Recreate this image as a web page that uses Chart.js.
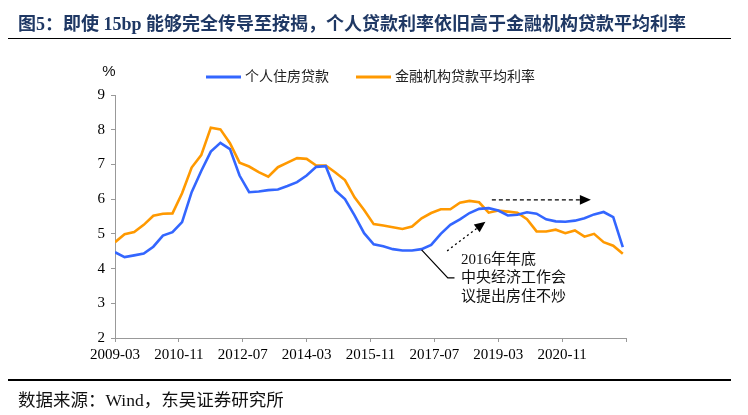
<!DOCTYPE html>
<html>
<head>
<meta charset="utf-8">
<script src="https://cdn.jsdelivr.net/npm/chart.js@4.4.1/dist/chart.umd.min.js"></script>
<style>
  html, body { margin: 0; padding: 0; background: #fff; }
  #wrap { position: relative; width: 748px; height: 415px; overflow: hidden; }
  #title { position: absolute; left: 18px; top: 9px; font: bold 18px "Liberation Serif", "Noto Sans CJK SC", serif; color: #1f3864; white-space: nowrap; }
  #rule1 { position: absolute; left: 8px; top: 38px; width: 723px; border-top: 1.5px solid #000; }
  #rule2 { position: absolute; left: 8px; top: 379px; width: 723px; border-top: 2.5px solid #000; }
  #src { position: absolute; left: 18px; top: 386px; font: 17.5px "Liberation Serif", "Noto Sans CJK SC", serif; color: #111; white-space: nowrap; }
  canvas { position: absolute; left: 0; top: 0; }
</style>
</head>
<body>
<div id="wrap">
  <canvas id="c" width="748" height="415"></canvas>
  <div id="title">图5：即使 15bp 能够完全传导至按揭，个人贷款利率依旧高于金融机构贷款平均利率</div>
  <div id="rule1"></div>
  <div id="rule2"></div>
  <div id="src">数据来源：Wind，东吴证券研究所</div>
</div>
<script>
// quarterly, 2009-03 .. 2022-06
const START_YEAR = 2009, START_MONTH = 3
const AXIS_MONTHS = 160   // axis runs to 2022-07, ticks every 20 months
const TICK_STEP = 20

const mortgage = [4.47,4.33,4.38,4.43,4.63,4.95,5.05,5.34,6.20,6.81,7.37,7.62,7.44,6.68,6.20,6.22,6.26,6.28,
  6.38,6.49,6.68,6.93,6.95,6.25,6.00,5.53,5.02,4.70,4.64,4.56,4.52,4.52,4.56,4.68,5.00,5.26,
  5.42,5.60,5.72,5.74,5.67,5.53,5.55,5.62,5.58,5.42,5.36,5.35,5.38,5.45,5.56,5.63,5.48,4.62]
const avgLoan = [4.76,4.99,5.05,5.26,5.52,5.58,5.59,6.17,6.91,7.27,8.06,8.01,7.61,7.05,6.94,6.78,6.65,6.92,
  7.05,7.18,7.16,6.97,6.97,6.77,6.55,6.05,5.69,5.28,5.24,5.19,5.14,5.21,5.45,5.60,5.71,5.71,
  5.90,5.95,5.91,5.61,5.67,5.64,5.61,5.42,5.07,5.07,5.12,5.02,5.10,4.92,5.00,4.76,4.66,4.43]
const seriesNames = ['个人住房贷款', '金融机构贷款平均利率']
const seriesColors = ['#3366ff', '#ff9900']
const noteLines = ['2016年年底', '中央经济工作会', '议提出房住不炒']

const monthLabel = m => {
  const t = START_YEAR * 12 + (START_MONTH - 1) + m
  return Math.floor(t / 12) + '-' + String(t % 12 + 1).padStart(2, '0')
}
const toPoints = arr => arr.map((v, i) => ({ x: i * 3, y: v }))

const SERIF = '"Liberation Serif", "Noto Sans CJK SC", serif'

const extras = {
  id: 'extras',
  afterDraw(chart) {
    const { ctx, chartArea: a, scales: { x, y } } = chart
    const px = m => x.getPixelForValue(m), py = v => y.getPixelForValue(v)
    ctx.save()
    // unit
    ctx.fillStyle = '#111'
    ctx.font = '15px "Liberation Sans", sans-serif'
    ctx.textAlign = 'center'; ctx.textBaseline = 'middle'
    ctx.fillText('%', a.left - 6, 72)
    // legend
    ctx.font = '14px ' + SERIF
    ctx.textAlign = 'left'
    const lineLen = 35, gap = 4, spacing = 27
    const widths = seriesNames.map(s => ctx.measureText(s).width)
    const total = widths.reduce((s, w) => s + lineLen + gap + w, 0) + spacing
    let lx = (a.left + a.right) / 2 - total / 2
    seriesNames.forEach((s, i) => {
      ctx.strokeStyle = seriesColors[i]; ctx.lineWidth = 3
      ctx.beginPath(); ctx.moveTo(lx, 77); ctx.lineTo(lx + lineLen, 77); ctx.stroke()
      ctx.fillStyle = '#222'
      ctx.fillText(s, lx + lineLen + gap, 77)
      lx += lineLen + gap + widths[i] + spacing
    })
    // arrows
    const arrow = (x0, y0, x1, y1, dash) => {
      ctx.strokeStyle = '#000'; ctx.fillStyle = '#000'; ctx.lineWidth = 1.3
      const ang = Math.atan2(y1 - y0, x1 - x0), hl = 11, hw = 4.8
      const bx = x1 - hl * Math.cos(ang), by = y1 - hl * Math.sin(ang)
      ctx.setLineDash(dash)
      ctx.beginPath(); ctx.moveTo(x0, y0); ctx.lineTo(bx, by); ctx.stroke()
      ctx.setLineDash([])
      ctx.beginPath()
      ctx.moveTo(x1, y1)
      ctx.lineTo(bx + hw * Math.sin(ang), by - hw * Math.cos(ang))
      ctx.lineTo(bx - hw * Math.sin(ang), by + hw * Math.cos(ang))
      ctx.closePath(); ctx.fill()
    }
    arrow(px(118), py(5.98), px(149), py(5.98), [4, 3])
    arrow(px(104), py(4.51), px(116), py(5.35), [2, 3])
    // leader line to the note
    ctx.strokeStyle = '#000'; ctx.lineWidth = 1.2
    ctx.beginPath()
    ctx.moveTo(px(96), py(4.54)); ctx.lineTo(px(104.2), py(3.73)); ctx.lineTo(px(106.3), py(3.73))
    ctx.stroke()
    ctx.fillStyle = '#111'
    ctx.font = '15px ' + SERIF
    ctx.textAlign = 'left'; ctx.textBaseline = 'middle'
    const ty = [4.25, 3.72, 3.19]
    noteLines.forEach((t, i) => ctx.fillText(t, px(108.3), py(ty[i])))
    ctx.restore()
  }
}

new Chart(document.getElementById('c'), {
  type: 'line',
  data: {
    datasets: [
      { label: seriesNames[0], data: toPoints(mortgage), borderColor: seriesColors[0], backgroundColor: seriesColors[0], borderWidth: 2.6, pointRadius: 0, tension: 0 },
      { label: seriesNames[1], data: toPoints(avgLoan), borderColor: seriesColors[1], backgroundColor: seriesColors[1], borderWidth: 2.6, pointRadius: 0, tension: 0 },
    ],
  },
  options: {
    responsive: false, animation: false,
    layout: { padding: { top: 95, right: 122, left: 0, bottom: 0 } },
    plugins: { legend: { display: false }, tooltip: { enabled: false } },
    scales: {
      x: {
        type: 'linear', min: 0, max: AXIS_MONTHS,
        afterFit: s => { s.height = 77 },
        afterBuildTicks: s => { s.ticks = []; for (let m = 0; m <= AXIS_MONTHS; m += TICK_STEP) s.ticks.push({ value: m }) },
        ticks: { color: '#000', font: { family: SERIF, size: 15 }, padding: 4, maxRotation: 0, autoSkip: false,
          callback: v => v >= AXIS_MONTHS ? '' : monthLabel(v) },
        grid: { display: true, drawOnChartArea: false, drawTicks: true, tickLength: 4, color: '#999' },
        border: { display: true, color: '#999', width: 1 },
      },
      y: {
        min: 2, max: 9,
        afterFit: s => { s.width = 115 },
        ticks: { stepSize: 1, color: '#000', font: { family: SERIF, size: 15 }, padding: 6 },
        grid: { display: true, drawOnChartArea: false, drawTicks: true, tickLength: 4, color: '#999' },
        border: { display: true, color: '#999', width: 1 },
      },
    },
  },
  plugins: [extras],
})
</script>
</body>
</html>
